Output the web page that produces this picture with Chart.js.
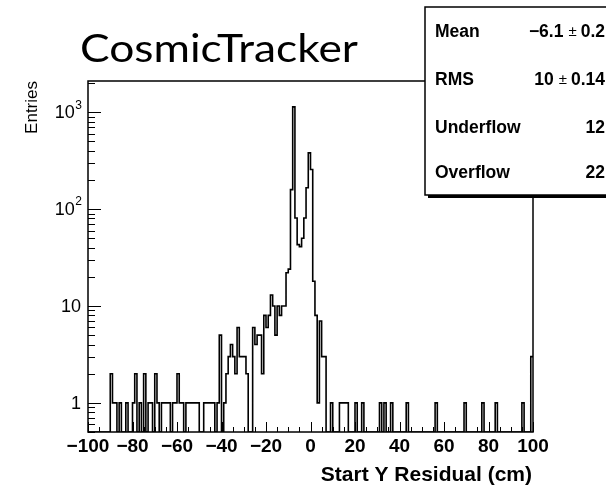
<!DOCTYPE html>
<html>
<head>
<meta charset="utf-8">
<script src="https://cdn.jsdelivr.net/npm/chart.js@4.4.1/dist/chart.umd.min.js"></script>
<style>
  html, body { margin: 0; padding: 0; background: #ffffff; }
  #wrap { position: relative; width: 606px; height: 487px; }
</style>
</head>
<body>
<div id="wrap"><canvas id="chartResidual"></canvas></div>
<script>
// histogram: 200 bins of 1 cm from -100 to 100
const binLow = -100;
const binHigh = 100;
const counts = [
  0, 0, 0, 0, 0, 0, 0, 0, 0, 0,
  2, 1, 1, 0, 1, 0, 0, 1, 0, 0,
  1, 2, 0, 1, 0, 2, 0, 1, 1, 0,
  2, 1, 0, 1, 1, 1, 1, 0, 1, 1,
  2, 1, 1, 0, 1, 1, 1, 1, 1, 1,
  0, 0, 1, 1, 1, 1, 1, 0, 1, 5,
  0, 1, 2, 3, 4, 3, 2, 6, 3, 3,
  3, 2, 0, 0, 6, 4, 5, 5, 2, 8,
  6, 8, 13, 10, 5, 10, 8, 10, 10, 22,
  24, 159, 1135, 81, 43, 41, 50, 81, 166, 380,
  256, 18, 8, 1, 7, 3, 3, 0, 0, 1,
  0, 0, 0, 1, 1, 1, 1, 0, 0, 0,
  1, 0, 0, 1, 0, 0, 0, 0, 0, 0,
  0, 1, 0, 1, 0, 0, 1, 0, 0, 0,
  0, 0, 0, 1, 0, 0, 0, 0, 0, 0,
  0, 0, 0, 0, 0, 0, 1, 0, 0, 0,
  0, 0, 0, 0, 0, 0, 0, 0, 0, 1,
  0, 0, 0, 0, 0, 0, 0, 1, 0, 0,
  0, 0, 0, 1, 0, 0, 0, 0, 0, 0,
  0, 0, 0, 0, 0, 1, 0, 0, 0, 3
];

const yMin = 0.5;
const yMax = 2100;
const xTickValues = [-100, -80, -60, -40, -20, 0, 20, 40, 60, 80, 100];
const yTickValues = [1, 10, 100, 1000];
const yTickBase = ["1", "10", "10", "10"];
const yTickExp = ["", "", "2", "3"];

const titleText = "CosmicTracker";
const xTitle = "Start Y Residual (cm)";
const yTitle = "Entries";
const statNames = ["Mean", "RMS", "Underflow", "Overflow"];
const statValues = ["\u22126.1", "10", "12", "22"];
const statErrors = ["0.2", "0.14", "", ""];

const FONT = '"Liberation Sans", Arial, sans-serif';

function stepPoints() {
  const width = (binHigh - binLow) / counts.length;
  const pts = [{ x: binLow, y: yMin }];
  counts.forEach((c, i) => {
    pts.push({ x: binLow + i * width, y: c > 0 ? c : yMin });
  });
  const last = counts[counts.length - 1];
  pts.push({ x: binHigh, y: last > 0 ? last : yMin });
  return pts;
}

function minus(v) {
  return v < 0 ? "\u2212" + Math.abs(v) : String(v);
}

const rootFrame = {
  id: "rootFrame",
  beforeDatasetsDraw(chart) {
    const { ctx, chartArea: a, scales: { x, y } } = chart;
    ctx.save();
    ctx.strokeStyle = "#000";
    ctx.lineWidth = 1;
    ctx.beginPath();
    for (let v = binLow; v <= binHigh; v += 5) {
      const px = Math.round(x.getPixelForValue(v)) + 0.5;
      const len = v % 20 === 0 ? 10 : 5;
      ctx.moveTo(px, a.bottom);
      ctx.lineTo(px, a.bottom - len);
    }
    for (let d = -1; d <= 3; d++) {
      for (let m = 1; m <= 9; m++) {
        const v = m * Math.pow(10, d);
        if (v < yMin || v > yMax) continue;
        const py = Math.round(y.getPixelForValue(v)) + 0.5;
        ctx.moveTo(a.left, py);
        ctx.lineTo(a.left + (m === 1 ? 13 : 7), py);
      }
    }
    ctx.stroke();
    ctx.lineWidth = 1.5;
    ctx.strokeRect(a.left, a.top, a.right - a.left, a.bottom - a.top);
    ctx.restore();
  },
  afterDraw(chart) {
    const { ctx, chartArea: a, scales: { x, y } } = chart;
    ctx.save();
    ctx.fillStyle = "#000";

    // x tick labels
    ctx.font = "bold 19px " + FONT;
    ctx.textAlign = "center";
    ctx.textBaseline = "middle";
    xTickValues.forEach((v) => {
      ctx.fillText(minus(v), x.getPixelForValue(v), 447);
    });

    // y tick labels
    yTickValues.forEach((v, i) => {
      const py = y.getPixelForValue(v);
      ctx.textAlign = "right";
      ctx.textBaseline = "middle";
      if (yTickExp[i]) {
        ctx.font = "12px " + FONT;
        const ew = ctx.measureText(yTickExp[i]).width;
        ctx.fillText(yTickExp[i], 82, py - 7);
        ctx.font = "18px " + FONT;
        ctx.fillText(yTickBase[i], 82 - ew - 0.5, py + 1);
      } else {
        ctx.font = "18px " + FONT;
        ctx.fillText(yTickBase[i], 81, py + 1);
      }
    });

    // axis titles
    ctx.font = "bold 21px " + FONT;
    ctx.textAlign = "right";
    ctx.textBaseline = "alphabetic";
    ctx.fillText(xTitle, a.right - 1, 481);

    ctx.save();
    ctx.translate(37, a.top);
    ctx.rotate(-Math.PI / 2);
    ctx.font = "17px " + FONT;
    ctx.textAlign = "right";
    ctx.fillText(yTitle, 0, 0);
    ctx.restore();

    // title, squeezed to the reference width
    ctx.save();
    ctx.font = '38px Lato, "Open Sans", sans-serif';
    ctx.textAlign = "left";
    ctx.textBaseline = "alphabetic";
    const tw = ctx.measureText(titleText).width;
    ctx.translate(80, 62);
    ctx.scale(278 / tw, 1);
    ctx.fillText(titleText, 0, 0);
    ctx.restore();

    // stats box with shadow
    const bx = 425, by = 7, bw = 200, bh = 188;
    ctx.fillStyle = "#000";
    ctx.fillRect(bx + 3, by + 3, bw, bh);
    ctx.fillStyle = "#fff";
    ctx.fillRect(bx, by, bw, bh);
    ctx.strokeStyle = "#000";
    ctx.lineWidth = 1.5;
    ctx.strokeRect(bx, by, bw, bh);

    const rowY = [32, 80, 128, 173];
    ctx.fillStyle = "#000";
    ctx.textBaseline = "middle";
    statNames.forEach((name, i) => {
      ctx.font = "bold 17.5px " + FONT;
      ctx.textAlign = "left";
      ctx.fillText(name, 435, rowY[i]);
      ctx.textAlign = "right";
      let right = 605;
      if (statErrors[i]) {
        ctx.fillText(statErrors[i], right, rowY[i]);
        right -= ctx.measureText(statErrors[i]).width + 4;
        ctx.font = "15px " + FONT;
        ctx.fillText("\u00b1", right, rowY[i]);
        right -= ctx.measureText("\u00b1").width + 5;
        ctx.font = "bold 17.5px " + FONT;
      }
      ctx.fillText(statValues[i], right, rowY[i]);
    });
    ctx.restore();
  }
};

new Chart(document.getElementById("chartResidual"), {
  type: "line",
  data: {
    datasets: [{
      label: "CosmicTracker",
      data: stepPoints(),
      stepped: "before",
      borderColor: "#000",
      borderWidth: 1.6,
      pointRadius: 0,
      fill: false,
      tension: 0
    }]
  },
  options: {
    responsive: true,
    maintainAspectRatio: false,
    animation: false,
    events: [],
    layout: { padding: { left: 88, right: 73, top: 81, bottom: 55 } },
    plugins: {
      legend: { display: false },
      tooltip: { enabled: false },
      title: { display: false }
    },
    scales: {
      x: { type: "linear", min: binLow, max: binHigh, display: false },
      y: { type: "logarithmic", min: yMin, max: yMax, display: false }
    }
  },
  plugins: [rootFrame]
});
</script>
</body>
</html>
